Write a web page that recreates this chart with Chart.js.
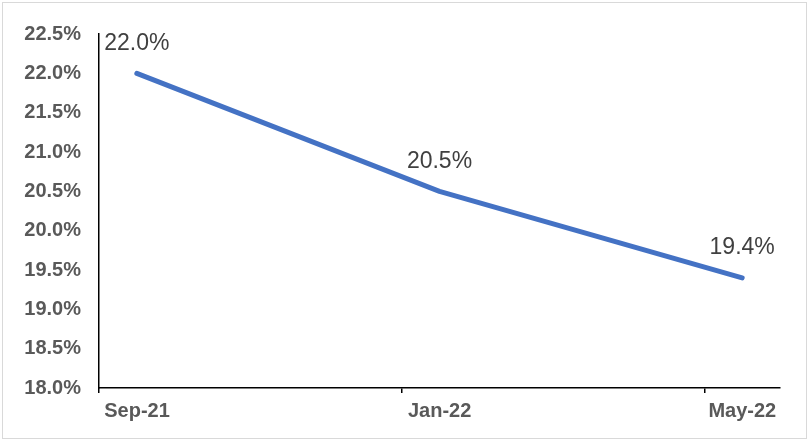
<!DOCTYPE html>
<html>
<head>
<meta charset="utf-8">
<script src="https://cdn.jsdelivr.net/npm/chart.js@4.4.0/dist/chart.umd.min.js"></script>
<style>
  html, body { margin: 0; padding: 0; background: #fff; }
  #wrap { position: relative; width: 810px; height: 441px; }
  #frame { position: absolute; left: 2px; top: 2px; width: 803px; height: 435px; border: 1.5px solid #d9d9d9; pointer-events: none; }
</style>
</head>
<body>
<div id="wrap">
  <canvas id="rateChart" width="810" height="441"></canvas>
  <div id="frame"></div>
</div>
<script>
// data
const categories = ['Sep-21', 'Jan-22', 'May-22'];
const monthsFromSep21 = [0.5, 4.5, 8.5];   // mid-month dates
const rates = [22.0, 20.5, 19.4];
const xTickMonths = [0, 4, 8];
const xTickLabels = ['Sep-21', 'Jan-22', 'May-22'];
const yTicks = [18.0, 18.5, 19.0, 19.5, 20.0, 20.5, 21.0, 21.5, 22.0, 22.5];

const FONT = "'Liberation Sans', Arial, sans-serif";

// value labels above each point
const valueLabels = {
  id: 'valueLabels',
  afterDatasetsDraw(chart) {
    const { ctx } = chart;
    const meta = chart.getDatasetMeta(0);
    ctx.save();
    ctx.font = '23px ' + FONT;
    ctx.fillStyle = '#404040';
    ctx.textAlign = 'center';
    ctx.textBaseline = 'middle';
    meta.data.forEach((pt, i) => {
      ctx.fillText(rates[i].toFixed(1) + '%', pt.x, pt.y - 30);
    });
    ctx.restore();
  }
};

const ctx = document.getElementById('rateChart').getContext('2d');
new Chart(ctx, {
  type: 'line',
  data: {
    datasets: [{
      label: 'Rate',
      data: monthsFromSep21.map((m, i) => ({ x: m, y: rates[i] })),
      borderColor: '#4472C4',
      borderWidth: 5,
      pointRadius: 0,
      tension: 0,
      borderCapStyle: 'round',
      borderJoinStyle: 'round'
    }]
  },
  options: {
    responsive: false,
    animation: false,
    layout: { padding: { top: 34, right: 30, left: 0, bottom: 0 } },
    plugins: {
      legend: { display: false },
      tooltip: { enabled: false }
    },
    scales: {
      x: {
        type: 'linear',
        min: 0,
        max: 9,
        afterBuildTicks: (scale) => {
          scale.ticks = xTickMonths.map(v => ({ value: v }));
        },
        afterFit: (scale) => { scale.height = 53; },
        ticks: {
          callback: (v) => xTickLabels[xTickMonths.indexOf(v)],
          font: { family: FONT, size: 20, weight: 'bold' },
          color: '#595959',
          labelOffset: 38,
          padding: 6,
          maxRotation: 0,
          autoSkip: false
        },
        grid: {
          drawOnChartArea: false,
          drawTicks: true,
          tickLength: 5,
          color: '#000',
          lineWidth: 1.5
        },
        border: { display: true, color: '#000', width: 1.5 }
      },
      y: {
        min: 18,
        max: 22.5,
        afterBuildTicks: (scale) => {
          scale.ticks = yTicks.map(v => ({ value: v }));
        },
        afterFit: (scale) => { scale.width = 99; },
        ticks: {
          callback: (v) => v.toFixed(1) + '%',
          font: { family: FONT, size: 20, weight: 'bold' },
          color: '#595959',
          padding: 18
        },
        grid: { display: false, drawTicks: false },
        border: { display: true, color: '#000', width: 1.5 }
      }
    }
  },
  plugins: [valueLabels]
});
</script>
</body>
</html>
